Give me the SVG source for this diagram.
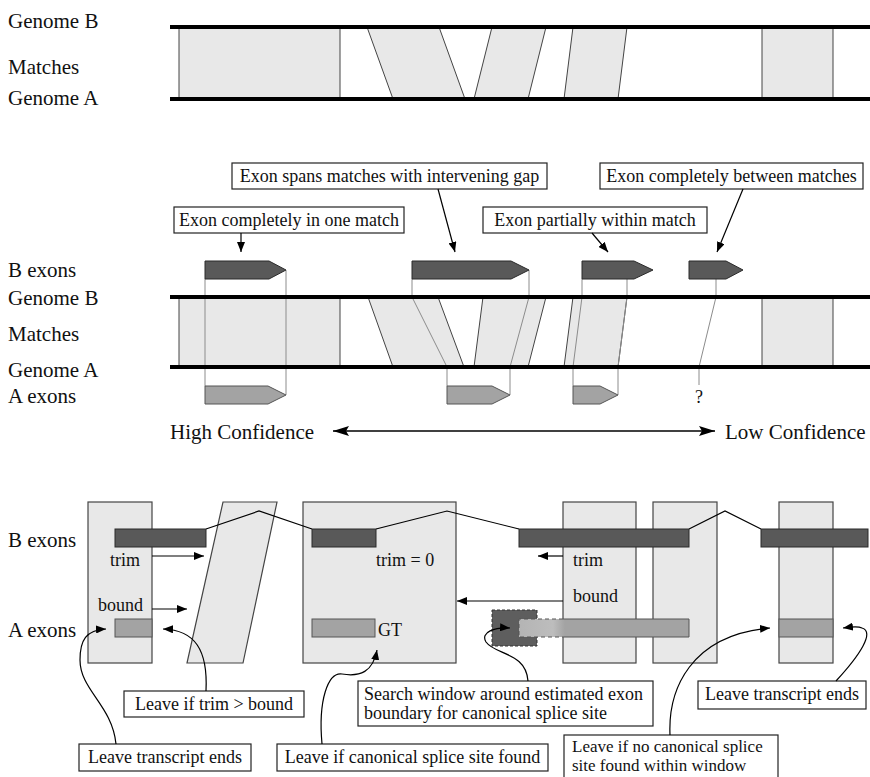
<svg xmlns="http://www.w3.org/2000/svg" width="870" height="777" viewBox="0 0 870 777">
<defs>
<style>
text { font-family: "Liberation Serif", "Times New Roman", serif; fill: #111; }
.big { font-size: 21px; }
.sm { font-size: 18px; }
.xs { font-size: 17px; }
.mid { text-anchor: middle; }
.genome { stroke: #000; stroke-width: 4; }
.match { fill: #e8e8e8; stroke: #444; stroke-width: 1; }
.bex { fill: #595959; stroke: #2a2a2a; stroke-width: 1; }
.aex { fill: #a3a3a3; stroke: #555; stroke-width: 1; }
.thin { fill: none; stroke: #8c8c8c; stroke-width: 1; }
.box { fill: #fff; stroke: #222; stroke-width: 1.2; }
.col { fill: #e8e8e8; stroke: #444; stroke-width: 1.2; }
.con { fill: none; stroke: #000; stroke-width: 1.2; }
.arr { fill: none; stroke: #000; stroke-width: 1.2; marker-end: url(#ah); }
</style>
<marker id="ah" viewBox="0 0 10 8" refX="10" refY="4" markerWidth="10" markerHeight="8" markerUnits="userSpaceOnUse" orient="auto">
<path d="M0,0 L10,4 L0,8 z" fill="#000"/>
</marker>
<marker id="bh" viewBox="0 0 16 10" refX="16" refY="5" markerWidth="16" markerHeight="10" markerUnits="userSpaceOnUse" orient="auto">
<path d="M0,0 L16,5 L0,10 L3,5 z" fill="#000"/>
</marker>
<marker id="bhs" viewBox="0 0 16 10" refX="16" refY="5" markerWidth="16" markerHeight="10" markerUnits="userSpaceOnUse" orient="auto-start-reverse">
<path d="M0,0 L16,5 L0,10 L3,5 z" fill="#000"/>
</marker>
<linearGradient id="fade" x1="519" y1="0" x2="689" y2="0" gradientUnits="userSpaceOnUse">
<stop offset="0" stop-color="#b4b4b4"/>
<stop offset="0.2" stop-color="#bdbdbd"/>
<stop offset="0.27" stop-color="#a3a3a3"/>
<stop offset="1" stop-color="#a3a3a3"/>
</linearGradient>
</defs>
<rect x="0" y="0" width="870" height="777" fill="#fff"/>

<!-- Section 1 -->
<g id="section1">
<g id="s1-labels">
<text class="big" x="8" y="28">Genome B</text>
<text class="big" x="8" y="74">Matches</text>
<text class="big" x="8" y="105">Genome A</text>
</g>
<g id="s1-matches">
<polygon class="match" points="179,27 340,27 340,99 179,99"/>
<polygon class="match" points="367,27 439,27 465,99 393,99"/>
<polygon class="match" points="492,27 546,27 528,99 474,99"/>
<polygon class="match" points="573,27 627,27 618,99 564,99"/>
<polygon class="match" points="762,27 833,27 833,99 762,99"/>
</g>
<g id="s1-genomes">
<line class="genome" x1="170" y1="27" x2="870" y2="27"/>
<line class="genome" x1="170" y1="99" x2="870" y2="99"/>
</g>
</g>

<!-- Section 2 -->
<g id="section2">
<g id="s2-labels">
<text class="big" x="8" y="277">B exons</text>
<text class="big" x="8" y="305">Genome B</text>
<text class="big" x="8" y="341">Matches</text>
<text class="big" x="8" y="377">Genome A</text>
<text class="big" x="8" y="403">A exons</text>
</g>
<g id="s2-matches">
<polygon class="match" points="179,297 340,297 340,367 179,367"/>
<polygon class="match" points="368,297 438,297 464,367 393,367"/>
<polygon class="match" points="483,297 546,297 528,367 474,367"/>
<polygon class="match" points="573,297 627,297 618,367 564,367"/>
<polygon class="match" points="762,297 833,297 833,367 762,367"/>
</g>
<g id="s2-projections">
<polyline class="thin" points="205,279 205,386"/>
<polyline class="thin" points="286,270 286,395"/>
<polyline class="thin" points="412,279 412,297 447,367 447,386"/>
<polyline class="thin" points="529,270 529,297 510,367 510,395"/>
<polyline class="thin" points="582,279 582,297 573,367 573,386"/>
<polyline class="thin" points="627,279 627,297 618,367 618,395"/>
<polyline class="thin" points="716,279 716,297 699,367 699,385"/>
</g>
<g id="s2-genomes">
<line class="genome" x1="170" y1="297" x2="870" y2="297"/>
<line class="genome" x1="170" y1="367" x2="870" y2="367"/>
</g>
<g id="s2-bexons">
<polygon class="bex" points="205,261 269,261 286,270 269,279 205,279"/>
<polygon class="bex" points="412,261 511,261 529,270 511,279 412,279"/>
<polygon class="bex" points="582,261 634,261 653,270 634,279 582,279"/>
<polygon class="bex" points="689,261 726,261 743,270 726,279 689,279"/>
</g>
<g id="s2-aexons">
<polygon class="aex" points="205,386 268,386 286,395 268,404 205,404"/>
<polygon class="aex" points="447,386 492,386 510,395 492,404 447,404"/>
<polygon class="aex" points="573,386 600,386 618,395 600,404 573,404"/>
<text class="sm mid" x="699" y="403">?</text>
</g>
<g id="s2-callout-one-match">
<rect class="box" x="174" y="207" width="230" height="26"/>
<text class="sm mid" x="289" y="226">Exon completely in one match</text>
</g>
<g id="s2-callout-gap">
<rect class="box" x="232" y="163" width="315" height="26"/>
<text class="sm mid" x="389.5" y="182">Exon spans matches with intervening gap</text>
</g>
<g id="s2-callout-partial">
<rect class="box" x="483" y="207" width="224" height="26"/>
<text class="sm mid" x="595" y="226">Exon partially within match</text>
</g>
<g id="s2-callout-between">
<rect class="box" x="600" y="163" width="263" height="26"/>
<text class="sm mid" x="731.5" y="182">Exon completely between matches</text>
</g>
<g id="s2-confidence">
<text class="big" x="170" y="439">High Confidence</text>
<text class="big" x="725" y="439">Low Confidence</text>
</g>
</g>

<!-- Section 3 -->
<g id="section3">
<g id="s3-labels">
<text class="big" x="8" y="547">B exons</text>
<text class="big" x="8" y="637">A exons</text>
</g>
<g id="s3-matches">
<rect class="col" x="88" y="502" width="64" height="161"/>
<polygon class="col" points="223,502 277,502 243,663 187,663"/>
<rect class="col" x="303" y="502" width="153" height="161"/>
<rect class="col" x="563" y="502" width="73" height="161"/>
<rect class="col" x="653" y="502" width="64" height="161"/>
<rect class="col" x="779" y="502" width="54" height="161"/>
</g>
<g id="s3-bexons">
<polyline class="con" points="206,529 259,511 312,529"/>
<polyline class="con" points="376,529 447,511 519,529"/>
<polyline class="con" points="689,529 725,511 761,529"/>
<rect class="bex" x="115" y="529" width="91" height="18"/>
<rect class="bex" x="312" y="529" width="64" height="18"/>
<rect class="bex" x="519" y="529" width="170" height="18"/>
<rect class="bex" x="761" y="529" width="107" height="18"/>
</g>
<g id="s3-aexons">
<rect class="aex" x="115" y="619" width="37" height="18"/>
<rect class="aex" x="312" y="619" width="63" height="18"/>
<rect class="aex" x="779" y="619" width="54" height="18"/>
<rect x="492" y="610" width="45" height="36" fill="#5e5e5e" stroke="#333" stroke-width="1" stroke-dasharray="3,2"/>
<rect x="519" y="619" width="170" height="18" fill="url(#fade)"/>
<path d="M563,619 H689 V637 H563" fill="none" stroke="#555" stroke-width="1"/>
<path d="M563,619 H519 V637 H563" fill="none" stroke="#555" stroke-width="1" stroke-dasharray="4,3"/>
<text class="sm" x="378" y="636">GT</text>
</g>
<g id="s3-trim-bound">
<text class="sm" x="110" y="566">trim</text>
<text class="sm" x="98" y="611">bound</text>
<text class="sm" x="376" y="566">trim = 0</text>
<text class="sm" x="573" y="566">trim</text>
<text class="sm" x="573" y="602">bound</text>
</g>
<g id="s3-note-trim-bound">
<rect class="box" x="124" y="691" width="180" height="26"/>
<text class="sm mid" x="214" y="710">Leave if trim &gt; bound</text>
</g>
<g id="s3-note-ends-left">
<rect class="box" x="79" y="744" width="172" height="27"/>
<text class="sm mid" x="165" y="763">Leave transcript ends</text>
</g>
<g id="s3-note-splice-found">
<rect class="box" x="277" y="744" width="271" height="27"/>
<text class="sm mid" x="412.5" y="763">Leave if canonical splice site found</text>
</g>
<g id="s3-note-search">
<rect class="box" x="358" y="681" width="295" height="45"/>
<text class="sm" x="364" y="700">Search window around estimated exon</text>
<text class="sm" x="364" y="719">boundary for canonical splice site</text>
</g>
<g id="s3-note-ends-right">
<rect class="box" x="698" y="681" width="168" height="28"/>
<text class="sm mid" x="782" y="700">Leave transcript ends</text>
</g>
<g id="s3-note-no-splice">
<rect class="box" x="564" y="735" width="214" height="44"/>
<text class="xs" x="572" y="752">Leave if no canonical splice</text>
<text class="xs" x="572" y="771">site found within window</text>
</g>
</g>

<!-- Connectors -->
<g id="connectors">
<line class="arr" x1="241" y1="233" x2="241" y2="252"/>
<line class="arr" x1="438" y1="189" x2="455" y2="252"/>
<line class="arr" x1="592" y1="233" x2="608" y2="252"/>
<line class="arr" x1="743" y1="189" x2="717" y2="252"/>
<line x1="333" y1="431" x2="715" y2="431" stroke="#000" stroke-width="1.5" marker-start="url(#bhs)" marker-end="url(#bh)"/>
<line class="arr" x1="152" y1="556" x2="204" y2="556"/>
<line class="arr" x1="152" y1="609" x2="187" y2="609"/>
<line class="arr" x1="563" y1="556" x2="538" y2="556"/>
<line class="arr" x1="563" y1="601" x2="457" y2="601"/>
<path class="arr" d="M116,744 C112,705 80,690 80,660 C80,640 86,630 106,629"/>
<path class="arr" d="M206,691 C208,650 195,630 163,629"/>
<path class="arr" d="M322,744 C318,700 328,672 342,674 C360,677 373,672 377,650"/>
<path class="arr" d="M528,681 C526,652 495,655 486,642 C480,632 495,627 510,628"/>
<path class="arr" d="M670,735 C668,690 690,635 770,628"/>
<path class="arr" d="M836,681 C860,655 875,632 862,628 C858,626 850,627 843,628"/>
</g>
</svg>
